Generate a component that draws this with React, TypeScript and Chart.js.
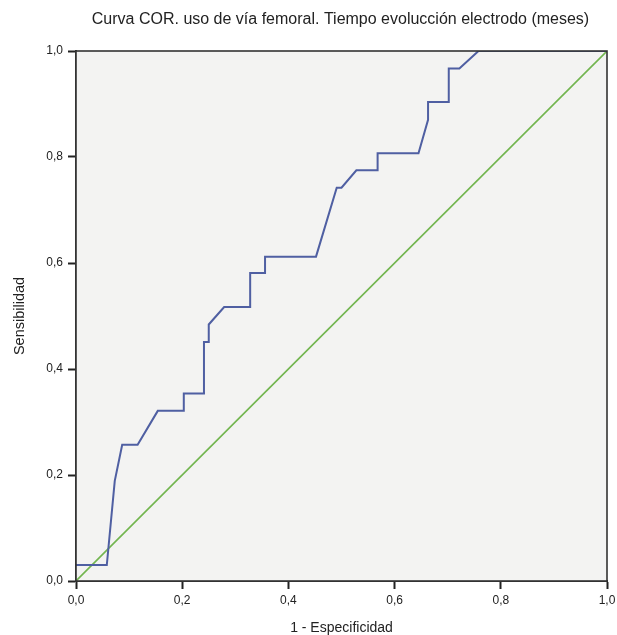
import React, { useEffect, useRef } from "react";
import { Chart, registerables } from "chart.js";

Chart.register(...registerables);

const TITLE = "Curva COR. uso de vía femoral. Tiempo evolucción electrodo (meses)";
const X_LABEL = "1 - Especificidad";
const Y_LABEL = "Sensibilidad";

const fpr = [0, 0.058, 0.073, 0.087, 0.116, 0.154, 0.203, 0.203, 0.241, 0.241, 0.25, 0.25, 0.279, 0.328, 0.328, 0.356, 0.356, 0.452, 0.491, 0.5, 0.528, 0.568, 0.568, 0.645, 0.663, 0.663, 0.702, 0.702, 0.722, 0.758, 1.0];
const tpr = [0.03, 0.03, 0.189, 0.257, 0.257, 0.321, 0.321, 0.354, 0.354, 0.451, 0.451, 0.484, 0.517, 0.517, 0.581, 0.581, 0.612, 0.612, 0.742, 0.742, 0.775, 0.775, 0.807, 0.807, 0.87, 0.904, 0.904, 0.967, 0.967, 1.0, 1.0];
const refX = [0, 1];
const refY = [0, 1];

const FONT = "'Liberation Sans', Arial, Helvetica, sans-serif";

const fmt = (v: number | string) => Number(v).toFixed(1).replace(".", ",");

export default function App() {
  const ref = useRef<HTMLCanvasElement | null>(null);

  useEffect(() => {
    document.body.style.margin = "0";
    const canvas = ref.current;
    if (!canvas) return;

    const framePlugin = {
      id: "frame",
      beforeDatasetsDraw(chart: any) {
        const { ctx, chartArea: a } = chart;
        ctx.save();
        ctx.fillStyle = "#f3f3f2";
        ctx.fillRect(a.left, a.top, a.right - a.left, a.bottom - a.top);
        ctx.restore();
      },
      afterDatasetsDraw(chart: any) {
        const { ctx, chartArea: a } = chart;
        ctx.save();
        ctx.strokeStyle = "#333333";
        ctx.lineWidth = 1.6;
        ctx.strokeRect(a.left, a.top, a.right - a.left, a.bottom - a.top);
        ctx.restore();
      },
      afterDraw(chart: any) {
        const { ctx, chartArea: a } = chart;
        ctx.save();
        ctx.fillStyle = "#222222";
        ctx.font = `16px ${FONT}`;
        ctx.textAlign = "center";
        ctx.textBaseline = "middle";
        ctx.fillText(TITLE, (a.left + a.right) / 2 - 1, 20);
        ctx.restore();
      },
    };

    const chart = new Chart(canvas, {
      type: "line",
      data: {
        datasets: [
          {
            label: "ROC",
            data: fpr.map((x, i) => ({ x, y: tpr[i] })),
            borderColor: "#4f5fa2",
            borderWidth: 2,
            pointRadius: 0,
            tension: 0,
            fill: false,
          },
          {
            label: "Referencia",
            data: refX.map((x, i) => ({ x, y: refY[i] })),
            borderColor: "#72b54f",
            borderWidth: 1.6,
            pointRadius: 0,
            tension: 0,
            fill: false,
          },
        ],
      },
      plugins: [framePlugin],
      options: {
        animation: false,
        responsive: false,
        layout: { padding: { left: 0, top: 51, right: 10, bottom: 0 } },
        plugins: {
          legend: { display: false },
          title: { display: false },
          tooltip: { enabled: false },
        },
        scales: {
          x: {
            type: "linear",
            min: 0,
            max: 1,
            afterFit: (s: any) => {
              s.height = 54;
              s.paddingRight = 0;
              s.paddingLeft = 0;
            },
            ticks: {
              stepSize: 0.2,
              callback: (v: any) => fmt(v),
              color: "#222222",
              font: { size: 12, family: FONT },
              padding: 4,
              maxRotation: 0,
            },
            grid: {
              drawOnChartArea: false,
              drawTicks: true,
              tickLength: 8,
              tickColor: "#222222",
              tickWidth: 2,
            },
            border: { display: true, color: "#333333", width: 2 },
            title: {
              display: true,
              text: X_LABEL,
              color: "#222222",
              font: { size: 14, family: FONT },
              padding: { top: 0, bottom: -2 },
            },
          },
          y: {
            type: "linear",
            min: 0,
            max: 1,
            afterFit: (s: any) => {
              s.width = 76;
              s.paddingTop = 0;
              s.paddingBottom = 0;
            },
            ticks: {
              stepSize: 0.2,
              callback: (v: any) => fmt(v),
              color: "#222222",
              font: { size: 12, family: FONT },
              padding: 5,
            },
            grid: {
              drawOnChartArea: false,
              drawTicks: true,
              tickLength: 8,
              tickColor: "#222222",
              tickWidth: 2,
            },
            border: { display: true, color: "#333333", width: 2 },
            title: {
              display: true,
              text: Y_LABEL,
              color: "#222222",
              font: { size: 14.5, family: FONT },
              padding: { top: 11, bottom: 0 },
            },
          },
        },
      },
    } as any);

    return () => chart.destroy();
  }, []);

  return (
    <div style={{ width: 617, height: 635 }}>
      <canvas ref={ref} width={617} height={635} style={{ display: "block" }} />
    </div>
  );
}
